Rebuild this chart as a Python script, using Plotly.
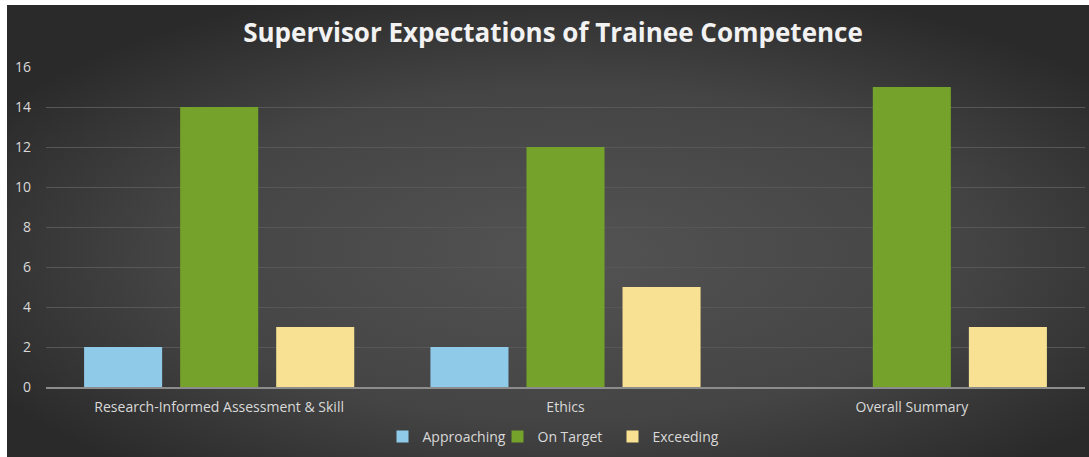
import plotly.graph_objects as go
import base64

categories = ["Research-Informed Assessment & Skill", "Ethics", "Overall Summary"]
approaching = [2, 2, 0]
on_target = [14, 12, 15]
exceeding = [3, 5, 3]
y_ticks = [0, 2, 4, 6, 8, 10, 12, 14, 16]

W, H = 1089, 457
ML, MR, MT, MB = 46, 4, 67, 70

svg = """<svg xmlns='http://www.w3.org/2000/svg' width='1082' height='452' preserveAspectRatio='none'>
<defs><radialGradient id='g' cx='0.52' cy='0.55' r='0.62' gradientUnits='objectBoundingBox'>
<stop offset='0' stop-color='#535353'/><stop offset='0.6' stop-color='#444444'/><stop offset='1' stop-color='#2a2a2a'/></radialGradient></defs>
<rect width='1082' height='452' fill='url(#g)'/></svg>"""
uri = "data:image/svg+xml;base64," + base64.b64encode(svg.encode()).decode()

pw = W - ML - MR
ph = H - MT - MB
def px2x(p):
    return (p - ML) / pw
def py2y(p):
    return (H - MB - p) / ph

fig = go.Figure()
fig.add_bar(name="Approaching", x=categories, y=approaching, marker=dict(color="#8fcbe9", line=dict(width=0)))
fig.add_bar(name="On Target", x=categories, y=on_target, marker=dict(color="#75a22a", line=dict(width=0)))
fig.add_bar(name="Exceeding", x=categories, y=exceeding, marker=dict(color="#f8e192", line=dict(width=0)))

fig.update_layout(
    width=W, height=H,
    margin=dict(l=ML, r=MR, t=MT, b=MB),
    paper_bgcolor="white",
    plot_bgcolor="rgba(0,0,0,0)",
    barmode="group",
    bargap=0.168,
    bargroupgap=0.1875,
    title=dict(text="<b>Supervisor Expectations of Trainee Competence</b>",
               x=553 / W, xanchor="center",
               y=1 - 33 / H, yanchor="middle",
               font=dict(family="Open Sans", size=26, color="#f2f2f2")),
    font=dict(family="Open Sans", color="#d9d9d9"),
    images=[dict(source=uri, xref="paper", yref="paper",
                 x=px2x(7), y=py2y(5), sizex=px2x(1089) - px2x(7), sizey=py2y(5) - py2y(457),
                 xanchor="left", yanchor="top", sizing="stretch", layer="below")],
    legend=dict(orientation="h", x=px2x(555), xanchor="center", y=py2y(437), yanchor="middle",
                font=dict(size=14, color="#d9d9d9"), bgcolor="rgba(0,0,0,0)",
                itemwidth=30, traceorder="normal", entrywidth=70, entrywidthmode="pixels"),
    showlegend=True,
)
fig.update_yaxes(range=[0, 16], tickvals=y_ticks, showgrid=True, gridcolor="#575757", gridwidth=1,
                 zeroline=False, showline=False, tickfont=dict(size=14, color="#d9d9d9"),
                 ticks="", ticklabelstandoff=14)
fig.update_xaxes(showgrid=False, showline=True, linecolor="#8c8c8c", linewidth=1.5,
                 tickfont=dict(size=14, color="#d9d9d9"), ticks="", ticklabelstandoff=6)

fig.write_html("out.html", config={"displayModeBar": False},
               post_script="document.body.style.margin='0px';")
